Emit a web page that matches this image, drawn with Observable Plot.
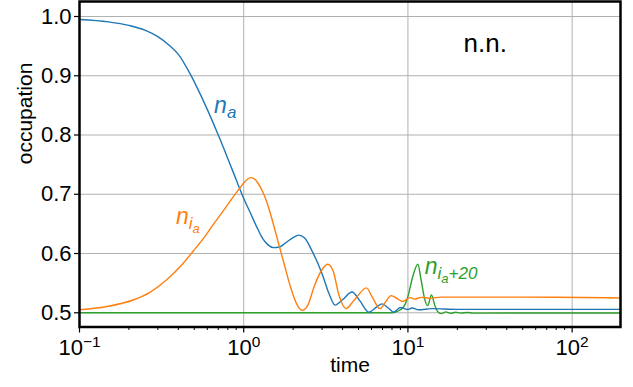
<!DOCTYPE html>
<html>
<head>
<meta charset="utf-8">
<script src="https://cdn.jsdelivr.net/npm/d3@7"></script>
<script src="https://cdn.jsdelivr.net/npm/@observablehq/plot@0.6"></script>
<style>
  html, body { margin: 0; padding: 0; background: #fff; }
</style>
</head>
<body>
<div id="chart"></div>
<script>
// ---------- data ----------
const timeA = [0.1, 0.15, 0.2, 0.25, 0.3, 0.35, 0.4, 0.47, 0.55, 0.7, 0.85, 1.0, 1.1, 1.2, 1.3, 1.4, 1.52, 1.65, 1.8, 2.0, 2.16, 2.35, 2.6, 3.0, 3.3, 3.6, 4.0, 4.57, 5.1, 5.77, 6.4, 6.96, 7.6, 8.2, 9.0, 9.9, 10.6, 11.6, 14.0, 20, 50, 197];
const occA  = [0.995, 0.991, 0.985, 0.977, 0.966, 0.952, 0.936, 0.904, 0.866, 0.800, 0.742, 0.693, 0.668, 0.645, 0.626, 0.615, 0.610, 0.611, 0.618, 0.627, 0.631, 0.626, 0.605, 0.566, 0.533, 0.513, 0.522, 0.535, 0.520, 0.501, 0.509, 0.515, 0.508, 0.501, 0.509, 0.5055, 0.508, 0.505, 0.507, 0.5058, 0.5058, 0.5058];

const timeIa = [0.1, 0.15, 0.214, 0.27, 0.341, 0.42, 0.496, 0.57, 0.657, 0.76, 0.869, 0.95, 1.0, 1.05, 1.1, 1.16, 1.22, 1.3, 1.39, 1.5, 1.63, 1.78, 1.93, 2.1, 2.27, 2.45, 2.7, 3.0, 3.25, 3.5, 3.8, 4.2, 4.6, 4.9, 5.58, 6.1, 6.75, 7.3, 7.9, 8.6, 9.3, 10.3, 11.0, 12.0, 13.5, 16, 30, 80, 197];
const occIa  = [0.505, 0.511, 0.522, 0.535, 0.556, 0.581, 0.605, 0.626, 0.650, 0.674, 0.697, 0.711, 0.719, 0.725, 0.728, 0.726, 0.719, 0.705, 0.685, 0.654, 0.617, 0.578, 0.543, 0.515, 0.504, 0.512, 0.546, 0.573, 0.582, 0.571, 0.530, 0.507, 0.518, 0.527, 0.542, 0.525, 0.507, 0.518, 0.529, 0.524, 0.519, 0.5255, 0.523, 0.526, 0.5245, 0.5265, 0.5265, 0.5262, 0.525];

const timeIa20 = [0.1, 1, 8.0, 8.4, 9.0, 9.65, 10.1, 10.6, 11.5, 12.0, 12.7, 13.2, 13.9, 14.6, 15.3, 16.0, 17.0, 18.2, 19.5, 21, 23, 25, 197];
const occIa20  = [0.5, 0.5, 0.5, 0.501, 0.505, 0.515, 0.532, 0.557, 0.582, 0.557, 0.521, 0.512, 0.530, 0.512, 0.501, 0.4985, 0.5015, 0.499, 0.501, 0.4995, 0.5005, 0.4995, 0.4997];

const xMajorTicks  = [0.1, 1, 10, 100];
const xMajorLabels = ["10^−1", "10^0", "10^1", "10^2"];
const xMinorTicks  = [0.2, 0.3, 0.4, 0.5, 0.6, 0.7, 0.8, 0.9, 2, 3, 4, 5, 6, 7, 8, 9, 20, 30, 40, 50, 60, 70, 80, 90];
const yTicks = [0.5, 0.6, 0.7, 0.8, 0.9, 1.0];

const seriesNames = ["n_a", "n_{i_a}", "n_{i_a+20}"];
const panelTitle = "n.n.";
const xTitle = "time";
const yTitle = "occupation";

// ---------- build ----------
const COLORS = ["#1f77b4", "#ff7f0e", "#2ca02c"];
const FONT = "'Liberation Sans', Arial, Helvetica, sans-serif";
const rows = (ts, vs) => ts.map((t, i) => ({t, v: vs[i]}));

const chart = Plot.plot({
  width: 633,
  height: 387,
  marginLeft: 79,
  marginRight: 13,
  marginTop: 1,
  marginBottom: 60.5,
  x: {type: "log", domain: [0.1, 197]},
  y: {domain: [0.476, 1.0253]},
  style: {fontFamily: FONT, background: "#fff", color: "#000", overflow: "visible"},
  marks: [
    Plot.gridX(xMajorTicks, {stroke: "#b0b0b0", strokeOpacity: 1, strokeWidth: 1}),
    Plot.gridY(yTicks, {stroke: "#b0b0b0", strokeOpacity: 1, strokeWidth: 1}),
    Plot.line(rows(timeIa20, occIa20), {x: "t", y: "v", stroke: COLORS[2], strokeWidth: 1.4, curve: "monotone-x"}),
    Plot.line(rows(timeA, occA), {x: "t", y: "v", stroke: COLORS[0], strokeWidth: 1.4, curve: "monotone-x"}),
    Plot.line(rows(timeIa, occIa), {x: "t", y: "v", stroke: COLORS[1], strokeWidth: 1.4, curve: "monotone-x"}),
    // series labels
    Plot.text([seriesNames[0]], {x: () => 0.66, y: () => 0.8498, text: d => d, fill: COLORS[0], textAnchor: "start", fontSize: 23}),
    Plot.text([seriesNames[1]], {x: () => 0.387, y: () => 0.6617, text: d => d, fill: COLORS[1], textAnchor: "start", fontSize: 23}),
    Plot.text([seriesNames[2]], {x: () => 12.65, y: () => 0.5781, text: d => d, fill: COLORS[2], textAnchor: "start", fontSize: 23}),
    Plot.text([panelTitle], {x: () => 21.8, y: () => 0.9533, text: d => d, fill: "#000", textAnchor: "start", fontSize: 26}),
    // axes
    Plot.axisX(xMinorTicks, {anchor: "bottom", tickSize: 3.5, tickFormat: () => "", label: null, strokeWidth: 1}),
    Plot.axisX(xMajorTicks, {anchor: "bottom", tickSize: 6, tickPadding: 6, fontSize: 22, strokeWidth: 1.2,
      tickFormat: d => xMajorLabels[xMajorTicks.indexOf(d)], label: null}),
    Plot.axisY(yTicks, {anchor: "left", tickSize: 5, tickPadding: 3, fontSize: 22, strokeWidth: 1.2,
      tickFormat: d3.format(".1f"), label: null}),
    Plot.text([xTitle], {frameAnchor: "bottom", dy: 45, fontSize: 21, text: d => d, fill: "#000"}),
    Plot.text([yTitle], {frameAnchor: "left", dx: -54, rotate: -90, fontSize: 21, text: d => d, fill: "#000"}),
    Plot.frame({stroke: "#000", strokeWidth: 2.5})
  ]
});

// ---------- rich text (superscripts / subscripts) ----------
// [string, font size px, baseline shift px, italic]
const rich = new Map([
  ["10^−1", [["10", 22, 0, false], ["−1", 15.5, -8, false]]],
  ["10^0",  [["10", 22, 0, false], ["0", 15.5, -8, false]]],
  ["10^1",  [["10", 22, 0, false], ["1", 15.5, -8, false]]],
  ["10^2",  [["10", 22, 0, false], ["2", 15.5, -8, false]]],
  ["n_a",        [["n", 23, 0, true], ["a", 17, 5, true]]],
  ["n_{i_a}",    [["n", 23, 0, true], ["i", 17, 5, true], ["a", 13, 9, true]]],
  ["n_{i_a+20}", [["n", 23, 0, true], ["i", 17, 5, true], ["a", 13, 9, true], ["+20", 17, 5, true]]]
]);
d3.select(chart).selectAll("text").each(function () {
  const spec = rich.get(this.textContent);
  if (!spec) return;
  const el = d3.select(this);
  el.text(null);
  let prev = 0;
  for (const [s, size, shift, italic] of spec) {
    el.append("tspan")
      .attr("font-size", size)
      .attr("font-style", italic ? "italic" : "normal")
      .attr("dy", shift - prev)
      .text(s);
    prev = shift;
  }
});

document.getElementById("chart").append(chart);
</script>
</body>
</html>
